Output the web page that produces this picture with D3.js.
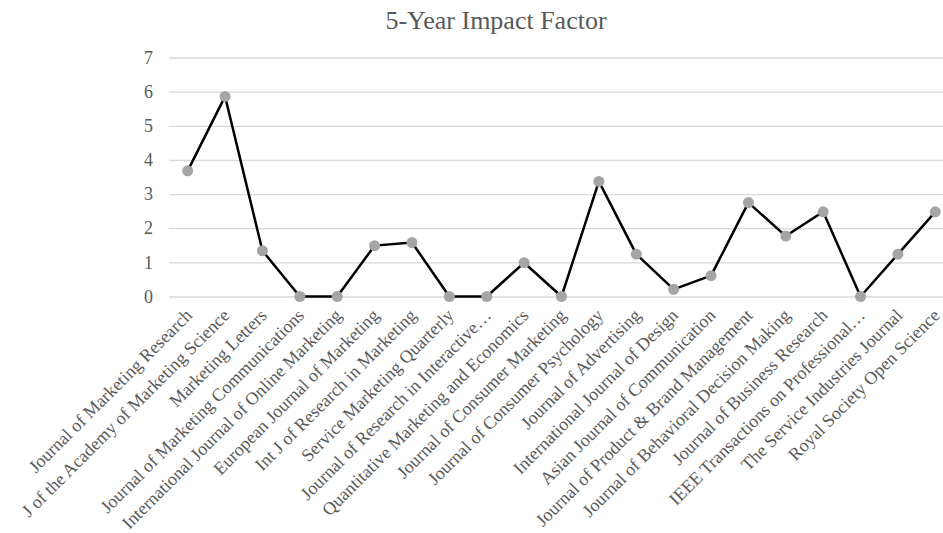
<!DOCTYPE html>
<html>
<head>
<meta charset="utf-8">
<script src="https://cdn.jsdelivr.net/npm/d3@7"></script>
<style>
  body { margin: 0; background: #fff; }
  svg { display: block; font-family: "Liberation Serif", "Times New Roman", serif; }
</style>
</head>
<body>
<div id="chart"></div>
<script>
// journals on the x axis
const journals = [
  'Journal of Marketing Research',
  'J of the Academy of Marketing Science',
  'Marketing Letters',
  'Journal of Marketing Communications',
  'International Journal of Online Marketing',
  'European Journal of Marketing',
  'Int J of Research in Marketing',
  'Service Marketing Quarterly',
  'Journal of Research in Interactive\u2026',
  'Quantitative Marketing and Economics',
  'Journal of Consumer Marketing',
  'Journal of Consumer Psychology',
  'Journal of Advertising',
  'International Journal of Design',
  'Asian Journal of Communication',
  'Journal of Product & Brand Management',
  'Journal of Behavioral Decision Making',
  'Journal of Business Research',
  'IEEE Transactions on Professional\u2026',
  'The Service Industries Journal',
  'Royal Society Open Science'
];
// 5-year impact factor values
const impact = [3.68, 5.86, 1.34, 0, 0, 1.49, 1.58, 0, 0, 0.99, 0, 3.37, 1.24,
  0.21, 0.61, 2.75, 1.77, 2.48, 0, 1.24, 2.48];
const yTicks = [0, 1, 2, 3, 4, 5, 6, 7];

const width = 943;
const height = 533;
const plot = { left: 169, right: 954, top: 57.5, bottom: 296.5 };
const textColor = '#595959';

const data = journals.map((name, i) => ({ name, value: impact[i] }));

const svg = d3.select('#chart')
  .append('svg')
  .attr('width', width)
  .attr('height', height);

const xScale = d3.scalePoint()
  .domain(journals)
  .range([plot.left, plot.right])
  .padding(0.5);

const yScale = d3.scaleLinear()
  .domain([0, 7])
  .range([plot.bottom, plot.top]);

// title
svg.append('text')
  .attr('x', 496)
  .attr('y', 29)
  .attr('text-anchor', 'middle')
  .style('font-size', '26px')
  .style('fill', textColor)
  .text('5-Year Impact Factor');

// gridlines
svg.append('g')
  .attr('class', 'gridlines')
  .attr('transform', `translate(${plot.left}, 0)`)
  .call(d3.axisLeft(yScale).tickValues(yTicks).tickFormat('').tickSize(-(plot.right - plot.left)))
  .call(g => g.select('.domain').remove())
  .call(g => g.selectAll('line').attr('stroke', '#d9d9d9').attr('stroke-width', 1.3));

// y axis labels
svg.append('g')
  .attr('transform', `translate(${plot.left}, 0)`)
  .call(d3.axisLeft(yScale).tickValues(yTicks).tickFormat(d3.format('d')).tickSize(0).tickPadding(16))
  .call(g => g.select('.domain').remove())
  .call(g => g.selectAll('text')
    .style('font-family', '"Liberation Serif", serif')
    .style('font-size', '18px')
    .style('fill', textColor));

// x axis labels, rotated
svg.append('g')
  .attr('transform', `translate(0, ${plot.bottom})`)
  .call(d3.axisBottom(xScale).tickSize(0).tickPadding(0))
  .call(g => g.select('.domain').remove())
  .call(g => g.selectAll('text')
    .attr('text-anchor', 'end')
    .attr('dy', 0)
    .attr('transform', 'translate(5, 20) rotate(-45)')
    .style('font-family', '"Liberation Serif", serif')
    .style('font-size', '18px')
    .style('fill', textColor));

// line
const line = d3.line()
  .x(d => xScale(d.name))
  .y(d => yScale(d.value));

svg.append('path')
  .datum(data)
  .attr('fill', 'none')
  .attr('stroke', '#000')
  .attr('stroke-width', 2.5)
  .attr('stroke-linejoin', 'round')
  .attr('d', line);

// markers
svg.append('g')
  .selectAll('circle')
  .data(data)
  .join('circle')
  .attr('cx', d => xScale(d.name))
  .attr('cy', d => yScale(d.value))
  .attr('r', 5.5)
  .attr('fill', '#a5a5a5');
</script>
</body>
</html>
